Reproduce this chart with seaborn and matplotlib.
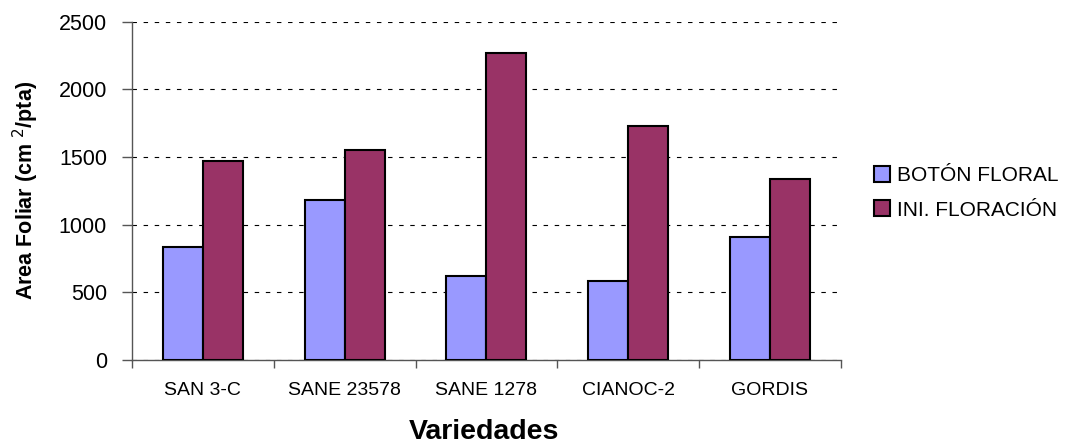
import matplotlib
matplotlib.use("Agg")
import matplotlib.pyplot as plt
import pandas as pd
import seaborn as sns

# Data
variedades = ["SAN 3-C", "SANE 23578", "SANE 1278", "CIANOC-2", "GORDIS"]
boton_floral = [833, 1183, 623, 586, 909]
ini_floracion = [1471, 1550, 2267, 1732, 1340]
series_names = ["BOTÓN FLORAL", "INI. FLORACIÓN"]
colors = ["#9999FF", "#993366"]

df = pd.DataFrame({
    "variedad": variedades * 2,
    "area": boton_floral + ini_floracion,
    "serie": [series_names[0]] * len(variedades) + [series_names[1]] * len(variedades),
})

sns.set_style("white")
plt.rcParams["font.family"] = ["Liberation Sans", "DejaVu Sans"]
plt.rcParams["text.color"] = "black"
plt.rcParams["axes.labelcolor"] = "black"

fig = plt.figure(figsize=(10.83, 4.45), dpi=100)
ax = fig.add_axes([0.1219, 0.191, 0.6544, 0.760])

sns.barplot(data=df, x="variedad", y="area", hue="serie", palette=colors,
            width=0.565, edgecolor="black", linewidth=1.5, saturation=1,
            errorbar=None, ax=ax, zorder=3)

ax.set_ylim(0, 2500)
ax.set_xlim(-0.5, 4.5)
ax.set_yticks([0, 500, 1000, 1500, 2000, 2500])
ax.yaxis.grid(True, linestyle=(0, (4, 6)), color="black", linewidth=0.8)
ax.set_axisbelow(True)

for s in ["top", "right"]:
    ax.spines[s].set_visible(False)
for s in ["left", "bottom"]:
    ax.spines[s].set_color("#555555")
    ax.spines[s].set_linewidth(1.0)

ax.tick_params(axis="y", left=True, length=7, width=1, color="#555555",
               labelsize=15.5, pad=11, labelcolor="black")
ax.tick_params(axis="x", which="major", bottom=False, labelsize=14, pad=12, labelcolor="black")
ax.set_xticks([i - 0.5 for i in range(len(variedades) + 1)], minor=True)
ax.tick_params(axis="x", which="minor", bottom=True, length=6, width=1, color="#555555")

ax.set_ylabel("Area Foliar (cm $^{2}$/pta)", fontsize=15.5, fontweight="bold")
ax.yaxis.set_label_coords(-0.128, 0.5)
ax.set_xlabel("Variedades", fontsize=20.5, fontweight="bold")
ax.xaxis.set_label_coords(0.497, -0.175)

ax.legend(loc="center left", bbox_to_anchor=(1.02, 0.495), frameon=False,
          fontsize=15, handlelength=0.8, handleheight=0.8, handletextpad=0.3,
          labelspacing=0.75)

plt.savefig("out.png", dpi=100)
